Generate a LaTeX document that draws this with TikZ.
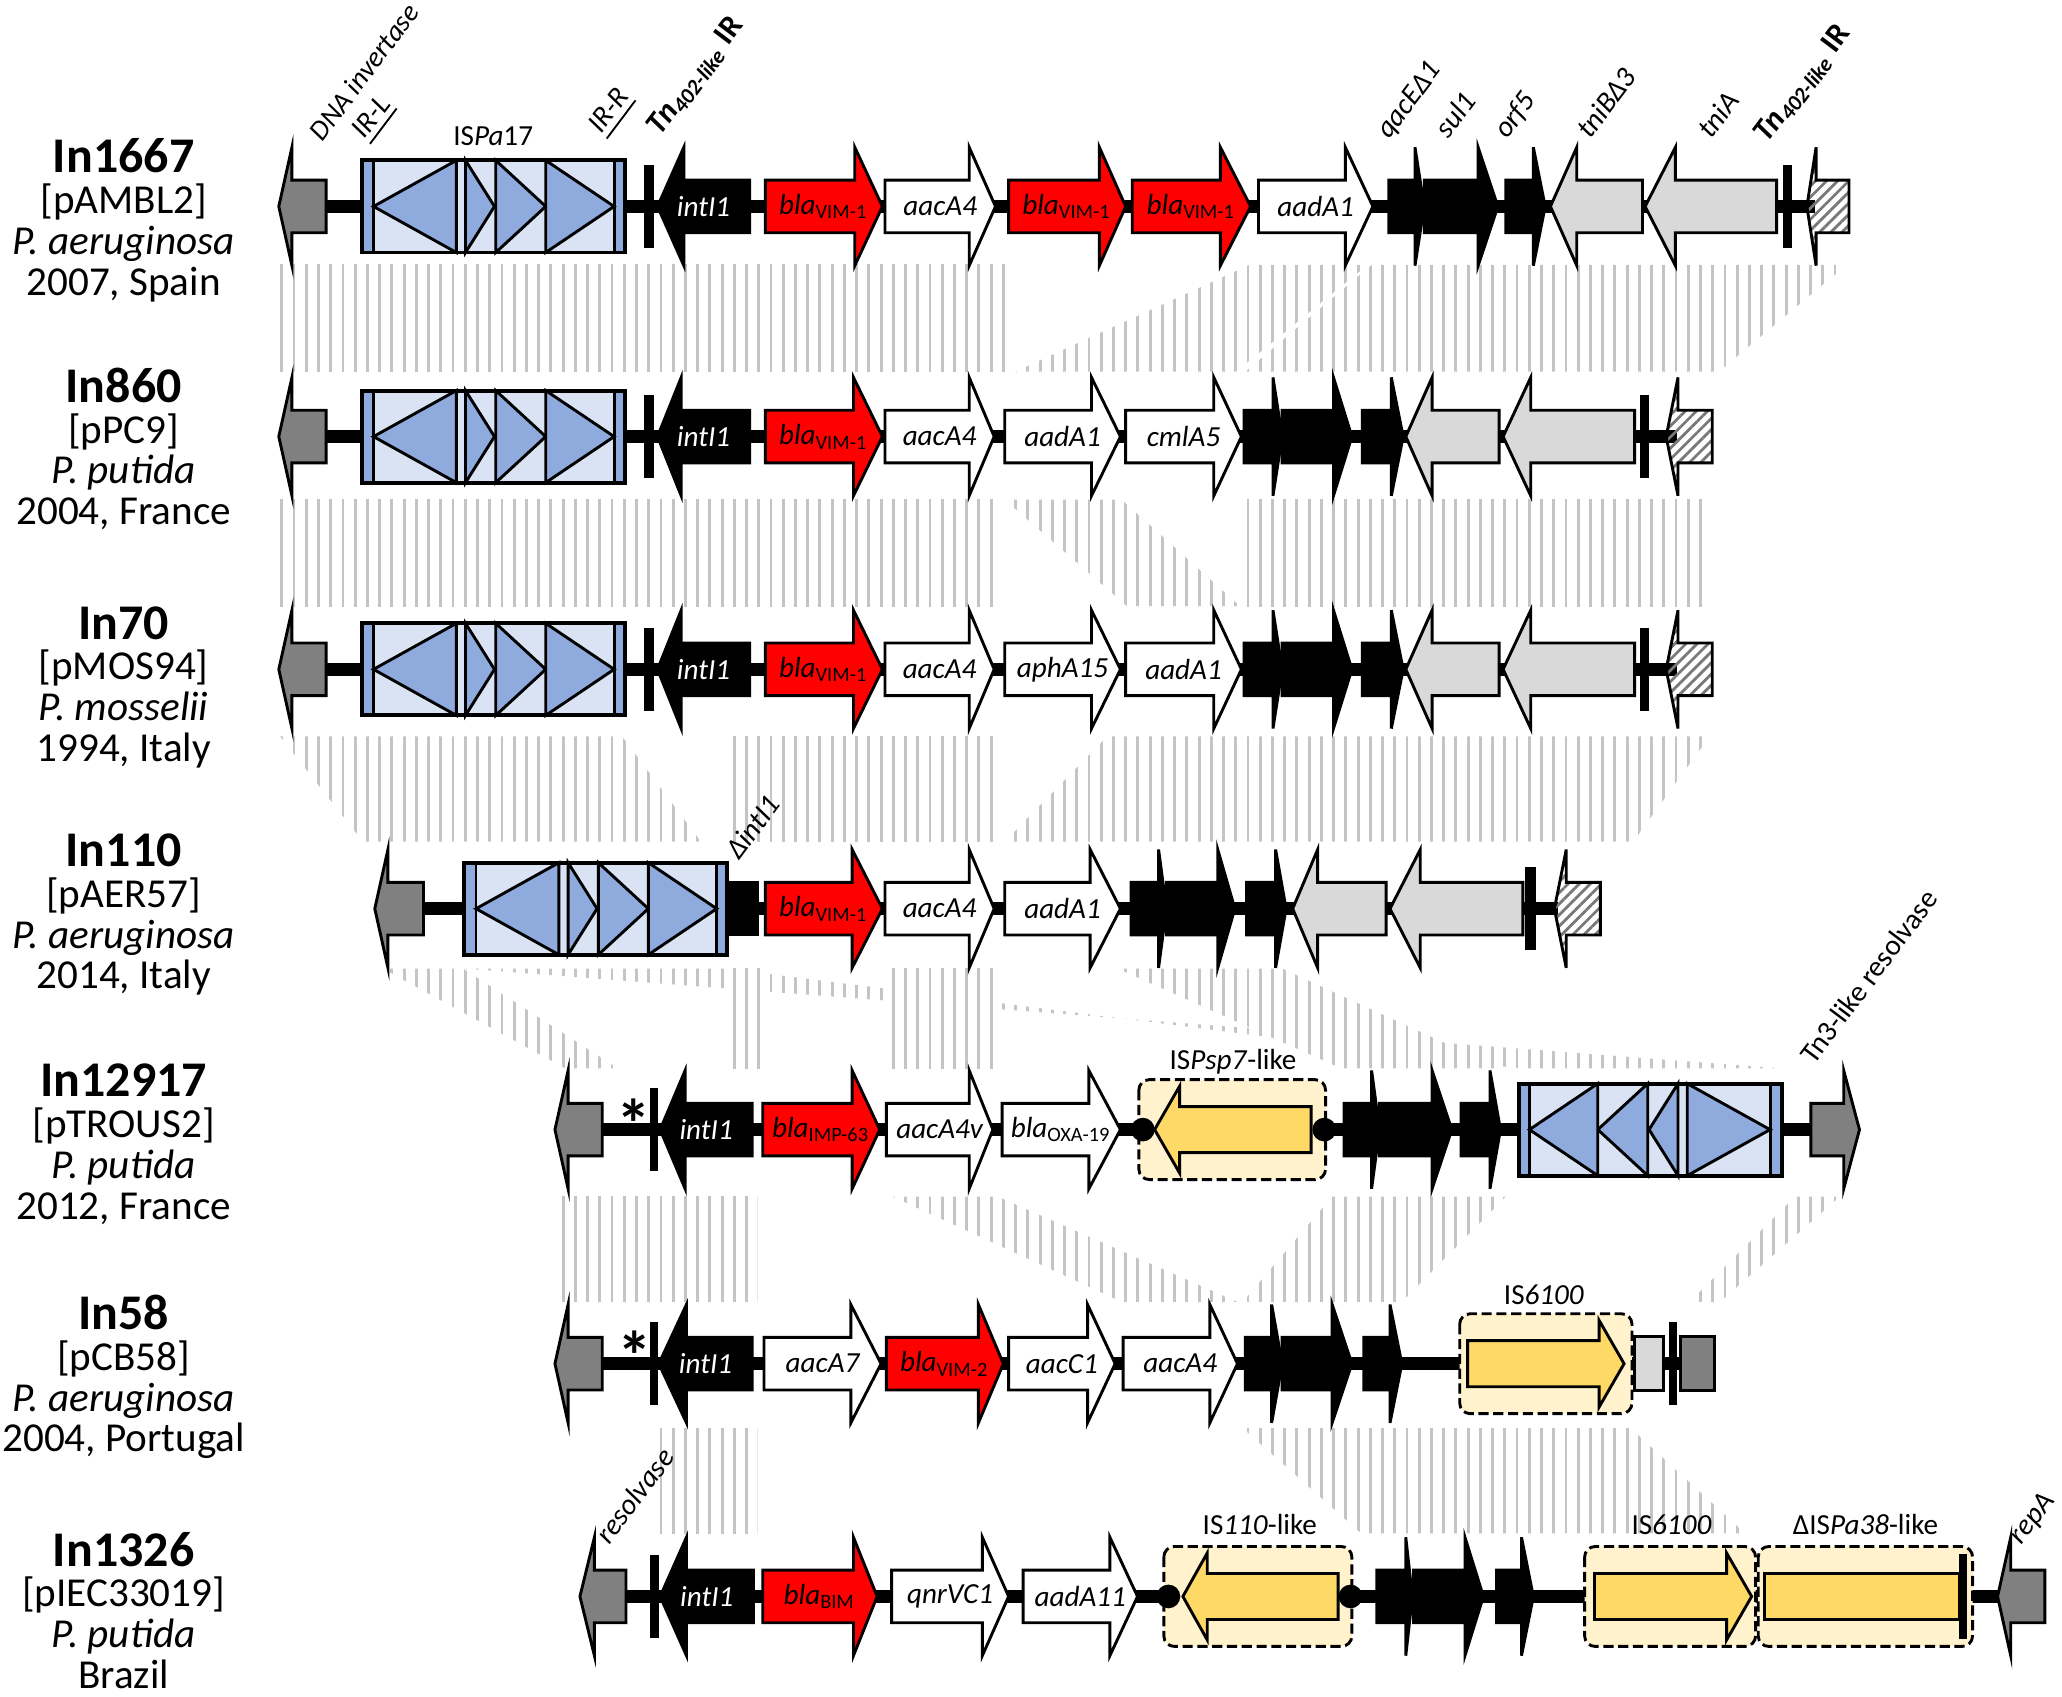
\documentclass[tikz,border=0pt]{standalone}
\usepackage{fontspec}
\setmainfont{Carlito}
\usetikzlibrary{calc,patterns.meta}

\definecolor{isblue}{RGB}{218,227,243}
\definecolor{isdark}{RGB}{143,170,220}
\definecolor{genered}{RGB}{255,0,0}
\definecolor{endgray}{RGB}{128,128,128}
\definecolor{tnigray}{RGB}{217,217,217}
\definecolor{isyellow}{RGB}{255,217,102}
\definecolor{isfill}{RGB}{255,242,204}
\definecolor{stripegray}{RGB}{196,196,196}
\definecolor{hatchgray}{RGB}{120,120,120}

% gene arrow: name, start, head base, tip, y, style, label
\newcommand{\gene}[7]{%
  \draw[#6] (#2,#5-20) -- (#3,#5-20) -- (#3,#5-45) -- (#4,#5) -- (#3,#5+45) -- (#3,#5+20) -- (#2,#5+20) -- cycle;
  \node[genelab] (#1) at ($(#2,#5)!.5!(#4,#5)$) {#7};}
% yellow transposase arrow: start, head base, tip, y
\newcommand{\isarrow}[4]{%
  \draw[isarrowstyle] (#1,#4-17.5) -- (#2,#4-17.5) -- (#2,#4-33) -- (#3,#4) -- (#2,#4+33) -- (#2,#4+17.5) -- (#1,#4+17.5) -- cycle;}
\newcommand{\irbar}[3]{\fill (#1,#3-31.5) rectangle (#2,#3+31.5);}
% ISPa17 box: left end, y, direction
\newcommand{\ispa}[3]{%
  \begin{scope}[shift={(#1,#2)},xscale=#3]
    \fill[isblue] (0,-35) rectangle (200,35);
    \fill[isdark] (0,-35) rectangle (9,35) (192,-35) rectangle (200,35);
    \draw[istri] (9,0) -- (72,-35) -- (72,35) -- cycle;
    \draw[istri] (79,-35) -- (101,0) -- (79,35) -- cycle;
    \draw[istri] (102,-35) -- (140,0) -- (102,35) -- cycle;
    \draw[istri] (140,-35) -- (192,0) -- (140,35) -- cycle;
    \draw[line width=0.22mm] (9,-35) -- (9,35) (192,-35) -- (192,35);
    \draw[line width=0.3mm] (0,-35) rectangle (200,35);
  \end{scope}}
\newcommand{\homol}[1]{%
  \begin{scope}
    \clip #1;
    \foreach \sx in {205,214.3,...,1425} {\draw[stripe] (\sx,0) -- (\sx,1290);}
  \end{scope}}
% strain labels: name, baseline, In, plasmid, species, origin
\newcommand{\strain}[6]{%
  \node[titlelab] (#1) at (94,#2) {#3};
  \node[strainlab] (#1pl) at (94,#2+31) {[#4]};
  \node[strainlab] (#1sp) at (94,#2+62) {\itshape #5};
  \node[strainlab] (#1or) at (94,#2+93) {#6};}

\begin{document}
\begin{tikzpicture}[x=0.1mm,y=-0.1mm,
  backbone/.style={line width=1mm},
  gene/.style={draw=black,line width=0.22mm},
  whitegene/.style={gene,fill=white},
  redgene/.style={gene,fill=genered},
  blackgene/.style={gene,fill=black},
  tnigene/.style={gene,fill=tnigray},
  endgene/.style={gene,fill=endgray},
  hatchgene/.style={gene,pattern={Lines[angle=45,distance=1.7pt,line width=0.6pt]},pattern color=hatchgray},
  istri/.style={draw=black,fill=isdark,line width=0.22mm},
  isframe/.style={draw=black,fill=isfill,line width=0.22mm,dash pattern=on 2.2pt off 1pt,rounded corners=0.8mm},
  isarrowstyle/.style={gene,fill=isyellow},
  stripe/.style={draw=stripegray,line width=0.22mm},
  genelab/.style={font=\fontsize{6.3pt}{7pt}\selectfont\itshape,inner sep=0pt},
  toplab/.style={font=\fontsize{6.3pt}{7pt}\selectfont,inner sep=0pt,rotate=53,anchor=base west},
  boxlab/.style={font=\fontsize{6.3pt}{7pt}\selectfont,inner sep=0pt,anchor=base},
  titlelab/.style={font=\fontsize{10.8pt}{12pt}\selectfont\bfseries,inner sep=0pt,anchor=base},
  strainlab/.style={font=\fontsize{8.9pt}{10pt}\selectfont,inner sep=0pt,anchor=base},
  star/.style={font=\fontsize{15pt}{15pt}\selectfont\bfseries,inner sep=0pt,anchor=north}]

\useasboundingbox (0,0) rectangle (1568,1290);

% homologous regions
\homol{(213,201.5) -- (768,201.5) -- (768,282.6) -- (213,282.6) -- cycle}
\homol{(950,201.5) -- (1040,201.5) -- (940,282.6) -- (772,282.6) -- cycle}
\homol{(1043,201.5) -- (1404,201.5) -- (1307,282.6) -- (947,282.6) -- cycle}
\homol{(213,380) -- (757,380) -- (757,461) -- (213,461) -- cycle}
\homol{(764,380) -- (853,380) -- (943,461) -- (857,461) -- cycle}
\homol{(946,380) -- (1300,380) -- (1300,461) -- (946,461) -- cycle}
\homol{(213,560) -- (473,560) -- (533,640) -- (276,640) -- cycle}
\homol{(555,560) -- (757,560) -- (757,640) -- (555,640) -- cycle}
\homol{(842,560) -- (1300,560) -- (1242,640) -- (764,640) -- cycle}
\homol{(291,736.5) -- (352,736.5) -- (470,812.5) -- (430,812.5) -- cycle}
\homol{(352,736.5) -- (552,736.5) -- (853.5,774.5) -- cycle}
\homol{(853.5,774.5) -- (1155,812.5) -- (1355,812.5) -- cycle}
\homol{(555,736.5) -- (578,736.5) -- (578,812.5) -- (555,812.5) -- cycle}
\homol{(678,736.5) -- (757,736.5) -- (757,812.5) -- (678,812.5) -- cycle}
\homol{(850,736.5) -- (975,736.5) -- (1141,812.5) -- (1020,812.5) -- cycle}
\homol{(422,910) -- (576,910) -- (576,990) -- (422,990) -- cycle}
\homol{(679,910) -- (759,910) -- (941,990) -- (853,990) -- cycle}
\homol{(1013,910) -- (1145,910) -- (1066,990) -- (945,990) -- cycle}
\homol{(1365,910) -- (1399,910) -- (1308,990) -- (1285,990) -- cycle}
\homol{(498,1086) -- (576,1086) -- (576,1166) -- (498,1166) -- cycle}
\homol{(945,1086) -- (1240,1086) -- (1327,1166) -- (1035,1166) -- cycle}

% In1667
\strain{in1667}{131.5}{In1667}{pAMBL2}{P. aeruginosa}{2007, Spain}
\draw[backbone] (240,157) -- (1380,157);
\gene{a0}{248}{222}{212}{157}{endgene}{}
\ispa{275}{157}{1}
\irbar{490}{497}{157}
\gene{a1}{570}{520}{500}{157}{blackgene}{\color{white}intI1}
\gene{a2}{582}{650}{671}{157}{redgene}{bla\textsubscript{\upshape VIM-1}}
\gene{a3}{673}{737}{757}{157}{whitegene}{aacA4}
\gene{a4}{767}{836}{856}{157}{redgene}{bla\textsubscript{\upshape VIM-1}}
\gene{a5}{861}{928}{951}{157}{redgene}{bla\textsubscript{\upshape VIM-1}}
\gene{a6}{957}{1023}{1044}{157}{whitegene}{aadA1}
\gene{a7}{1056}{1076}{1083}{157}{blackgene}{}
\gene{a8}{1083}{1124}{1139}{157}{blackgene}{}
\gene{a9}{1145}{1166}{1175}{157}{blackgene}{}
\gene{a10}{1249}{1199}{1179}{157}{tnigene}{}
\gene{a11}{1351}{1274}{1251}{157}{tnigene}{}
\irbar{1356}{1363}{157}
\gene{a12}{1406}{1381}{1374}{157}{hatchgene}{}
\node[toplab,font=\fontsize{6.1pt}{7pt}\selectfont\itshape] (dnainv) at (245,109) {DNA invertase};
\node[toplab,font=\fontsize{6.3pt}{7pt}\selectfont\itshape] (irl) at (277,107) {\underline{IR-L}};
\node[boxlab] (ispa1) at (375,111) {IS\textit{Pa}17};
\node[toplab,font=\fontsize{6.3pt}{7pt}\selectfont\itshape] (irr) at (457,103) {\underline{IR-R}};
\node[toplab,font=\fontsize{6.8pt}{7pt}\selectfont\bfseries] (tnl) at (502,104) {\textit{Tn}\textsubscript{\itshape 402-like} IR};
\node[toplab,font=\fontsize{6.3pt}{7pt}\selectfont\itshape] (qac) at (1056,107) {qacEΔ1};
\node[toplab,font=\fontsize{6.3pt}{7pt}\selectfont\itshape] (sul) at (1101,107) {sul1};
\node[toplab,font=\fontsize{6.3pt}{7pt}\selectfont\itshape] (orf) at (1146,107) {orf5};
\node[toplab,font=\fontsize{6.3pt}{7pt}\selectfont\itshape] (tnib) at (1209,107) {tniBΔ3};
\node[toplab,font=\fontsize{6.3pt}{7pt}\selectfont\itshape] (tnia) at (1301,107) {tniA};
\node[toplab,font=\fontsize{6.8pt}{7pt}\selectfont\bfseries] (tnr) at (1344,110) {\textit{Tn}\textsubscript{\itshape 402-like} IR};

% In860
\strain{in860}{306}{In860}{pPC9}{P. putida}{2004, France}
\draw[backbone] (240,332) -- (1275,332);
\gene{b0}{248}{222}{212}{332}{endgene}{}
\ispa{275}{332}{1}
\irbar{490}{497}{332}
\gene{b1}{570}{518}{500}{332}{blackgene}{\color{white}intI1}
\gene{b2}{582}{649}{671}{332}{redgene}{bla\textsubscript{\upshape VIM-1}}
\gene{b3}{673}{737}{756}{332}{whitegene}{aacA4}
\gene{b4}{764}{830}{852}{332}{whitegene}{aadA1}
\gene{b5}{856}{923}{944}{332}{whitegene}{cmlA5}
\gene{b6}{946}{968}{975}{332}{blackgene}{}
\gene{b7}{975}{1014}{1028}{332}{blackgene}{}
\gene{b8}{1036}{1058}{1067}{332}{blackgene}{}
\gene{b9}{1140}{1089}{1069}{332}{tnigene}{}
\gene{b10}{1243}{1164}{1143}{332}{tnigene}{}
\irbar{1247}{1254}{332}
\gene{b11}{1302}{1276}{1267}{332}{hatchgene}{}

% In70
\strain{in70}{486}{In70}{pMOS94}{P. mosselii}{1994, Italy}
\draw[backbone] (240,509) -- (1275,509);
\gene{c0}{248}{222}{212}{509}{endgene}{}
\ispa{275}{509}{1}
\irbar{490}{497}{509}
\gene{c1}{570}{518}{500}{509}{blackgene}{\color{white}intI1}
\gene{c2}{582}{649}{671}{509}{redgene}{bla\textsubscript{\upshape VIM-1}}
\gene{c3}{673}{737}{756}{509}{whitegene}{aacA4}
\gene{c4}{764}{830}{852}{509}{whitegene}{aphA15}
\gene{c5}{856}{923}{944}{509}{whitegene}{aadA1}
\gene{c6}{946}{968}{975}{509}{blackgene}{}
\gene{c7}{975}{1014}{1028}{509}{blackgene}{}
\gene{c8}{1036}{1058}{1067}{509}{blackgene}{}
\gene{c9}{1140}{1089}{1069}{509}{tnigene}{}
\gene{c10}{1243}{1164}{1143}{509}{tnigene}{}
\irbar{1247}{1254}{509}
\gene{c11}{1302}{1276}{1267}{509}{hatchgene}{}

% In110
\strain{in110}{659}{In110}{pAER57}{P. aeruginosa}{2014, Italy}
\draw[backbone] (315,691) -- (1185,691);
\gene{d0}{322}{295}{285}{691}{endgene}{}
\ispa{353}{691}{1}
\draw[blackgene] (553,671) rectangle (576,711);
\gene{d1}{582}{648}{671}{691}{redgene}{bla\textsubscript{\upshape VIM-1}}
\gene{d2}{673}{737}{756}{691}{whitegene}{aacA4}
\gene{d3}{764}{829}{852}{691}{whitegene}{aadA1}
\gene{d4}{860}{881}{887}{691}{blackgene}{}
\gene{d5}{887}{926}{939}{691}{blackgene}{}
\gene{d6}{948}{970}{978}{691}{blackgene}{}
\gene{d7}{1054}{1002}{983}{691}{tnigene}{}
\gene{d8}{1158}{1080}{1057}{691}{tnigene}{}
\irbar{1160}{1168}{691}
\gene{d9}{1217}{1191}{1182}{691}{hatchgene}{}
\node[toplab,font=\fontsize{6.3pt}{7pt}\selectfont\itshape] (dint) at (562,655) {ΔintI1};

% In12917
\strain{in12917}{834}{In12917}{pTROUS2}{P. putida}{2012, France}
\draw[backbone] (450,859) -- (1380,859);
\gene{e0}{458}{432}{422}{859}{endgene}{}
\node[star] (estar) at (482,835) {*};
\irbar{494}{500.5}{859}
\gene{e1}{572}{521}{502}{859}{blackgene}{\color{white}intI1}
\gene{e2}{580}{648}{669}{859}{redgene}{bla\textsubscript{\upshape IMP-63}}
\gene{e3}{674}{737}{755}{859}{whitegene}{aacA4v}
\gene{e4}{762}{828}{852}{859}{whitegene}{bla\textsubscript{\upshape OXA-19}}
\draw[isframe] (866,821) rectangle (1008,897);
\isarrow{997}{897}{878}{859}
\fill (869,859) circle (0.9mm) (1007,859) circle (0.9mm);
\node[boxlab] (issp7) at (937.6,813) {IS\textit{Psp7}-like};
\gene{e5}{1022}{1043}{1049}{859}{blackgene}{}
\gene{e6}{1049}{1089}{1104}{859}{blackgene}{}
\gene{e7}{1111}{1133}{1141}{859}{blackgene}{}
\ispa{1355}{859}{-1}
\gene{e8}{1377}{1402}{1414}{859}{endgene}{}
\node[toplab] (tn3res) at (1379,811) {Tn3-like resolvase};

% In58
\strain{in58}{1011}{In58}{pCB58}{P. aeruginosa}{2004, Portugal}
\draw[backbone] (450,1037) -- (1280,1037);
\gene{f0}{458}{432}{422}{1037}{endgene}{}
\node[star] (fstar) at (482.5,1011) {*};
\irbar{494}{500}{1037}
\gene{f1}{572}{522}{501}{1037}{blackgene}{\color{white}intI1}
\gene{f2}{581}{647}{670}{1037}{whitegene}{aacA7}
\gene{f3}{674}{744}{763}{1037}{redgene}{bla\textsubscript{\upshape VIM-2}}
\gene{f4}{767}{827}{848}{1037}{whitegene}{aacC1}
\gene{f5}{854}{920}{941}{1037}{whitegene}{aacA4}
\gene{f6}{947}{967}{975}{1037}{blackgene}{}
\gene{f7}{975}{1013}{1028}{1037}{blackgene}{}
\gene{f8}{1037}{1057}{1066}{1037}{blackgene}{}
\draw[isframe] (1110,999) rectangle (1241,1075);
\isarrow{1116}{1216}{1235}{1037}
\node[boxlab] (is6100a) at (1174,992) {IS\textit{6100}};
\draw[gene,fill=tnigray] (1243,1016.5) rectangle (1265,1057.5);
\irbar{1269}{1275.5}{1037}
\draw[gene,fill=endgray] (1278,1016.5) rectangle (1304,1057.5);

% In1326
\strain{in1326}{1191}{In1326}{pIEC33019}{P. putida}{Brazil}
\draw[backbone] (470,1214) -- (1525,1214);
\gene{g0}{476}{452}{441}{1214}{endgene}{}
\irbar{494}{501}{1214}
\gene{g1}{573}{522}{502}{1214}{blackgene}{\color{white}intI1}
\gene{g2}{580}{649}{667}{1214}{redgene}{bla\textsubscript{\upshape BIM}}
\gene{g3}{678}{747}{767}{1214}{whitegene}{qnrVC1}
\gene{g4}{778}{844}{865}{1214}{whitegene}{aadA11}
\draw[isframe] (885,1176) rectangle (1028,1252);
\isarrow{1017.5}{918}{899.5}{1214}
\fill (888.5,1214) circle (0.9mm) (1027,1214) circle (0.9mm);
\node[boxlab] (is110) at (958,1167) {IS\textit{110}-like};
\gene{g5}{1047}{1069}{1074}{1214}{blackgene}{}
\gene{g6}{1075}{1114}{1128}{1214}{blackgene}{}
\gene{g7}{1138}{1157}{1166}{1214}{blackgene}{}
\draw[isframe] (1205,1176) rectangle (1335,1252);
\isarrow{1212.5}{1313}{1332}{1214}
\node[boxlab] (is6100b) at (1271,1167) {IS\textit{6100}};
\draw[isframe] (1337,1176) rectangle (1500,1252);
\draw[isarrowstyle] (1342,1196.5) rectangle (1490,1231.5);
\fill (1490,1182) rectangle (1496,1246);
\node[boxlab] (ispa38) at (1418.6,1167) {ΔIS\textit{Pa38}-like};
\gene{g8}{1555}{1529}{1519}{1214}{endgene}{}
\node[toplab,font=\fontsize{6.3pt}{7pt}\selectfont\itshape] (resolv) at (463,1176) {resolvase};
\node[toplab,font=\fontsize{6.3pt}{7pt}\selectfont\itshape] (repa) at (1537,1176) {repA};

\end{tikzpicture}
\end{document}
